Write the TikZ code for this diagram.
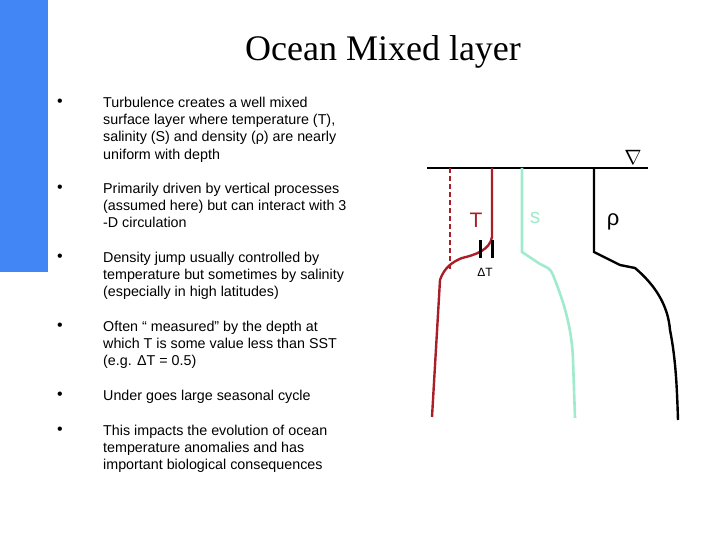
\documentclass[tikz,border=0pt]{standalone}
\usepackage{fontspec}
\setmainfont{Liberation Sans}
\newfontfamily\titlefont{Liberation Serif}
\begin{document}
\begin{tikzpicture}[x=1pt,y=-1pt,
 btxt/.style={anchor=north west,align=left,font=\fontsize{14.3}{17.2}\selectfont,inner sep=0pt},
 bul/.style={font=\fontsize{16}{17}\selectfont,inner sep=0pt}]
\definecolor{bbar}{RGB}{66,133,244}
\definecolor{tred}{RGB}{170,30,40}
\definecolor{sgrn}{RGB}{160,235,205}
\useasboundingbox (0,0) rectangle (720,540);
\fill[bbar] (0,0) rectangle (48,272);
\node[font=\titlefont\fontsize{36}{40}\selectfont] (title) at (383,52) {Ocean Mixed layer};
\foreach \y/\t [count=\i] in {
 97/{Turbulence creates a well mixed\\surface layer where temperature (T),\\salinity (S) and density (ρ) are nearly\\uniform with depth},
 183/{Primarily driven by vertical processes\\(assumed here) but can interact with 3\\-D circulation},
 252/{Density jump usually controlled by\\temperature but sometimes by salinity\\(especially in high latitudes)},
 321/{Often “ measured” by the depth at\\which T is some value less than SST\\(e.g. ΔT = 0.5)},
 390/{Under goes large seasonal cycle},
 425/{This impacts the evolution of ocean\\temperature anomalies and has\\important biological consequences}}{
 \node[bul] (b\i) at (60,\y+6) {•};
 \node[btxt] (t\i) at (103,\y) {\t};
}
% surface
\draw[line width=2.2pt] (427,168) -- (648,168);
\node[font=\fontsize{20}{22}\selectfont] (nabla) at (633,157) {$\nabla$};
% T
\draw[tred,line width=2pt,dash pattern=on 5pt off 3pt] (450,168) -- (450,270);
\draw[tred,line width=2.4pt] (492,168) -- (492,237) .. controls (490,250) and (475,255) .. (462,258) .. controls (452,262) and (444,268) .. (440,280) -- (432,417);
\draw[line width=3pt] (480,240) -- (480,258) (492,240) -- (492,258);
\node[text=tred,font=\fontsize{21}{22}\selectfont] (T) at (476,220) {T};
\node[font=\fontsize{12}{14}\selectfont] (dT) at (485,272) {ΔT};
% S
\draw[sgrn,line width=2.6pt] (522,168) -- (522,252) -- (540,264) .. controls (548,268) and (550,268) .. (553,275) .. controls (565,305) and (572,330) .. (573,360) -- (575,418);
\node[text=sgrn,font=\fontsize{21}{22}\selectfont] (S) at (535,218) {s};
% rho
\draw[line width=2.4pt] (594,168) -- (594,252) -- (620,265) -- (635,268) .. controls (655,285) and (668,305) .. (670,330) .. controls (676,360) and (677,390) .. (678,420);
\node[font=\fontsize{22}{22}\selectfont] (rho) at (613,222) {ρ};
\end{tikzpicture}
\end{document}
